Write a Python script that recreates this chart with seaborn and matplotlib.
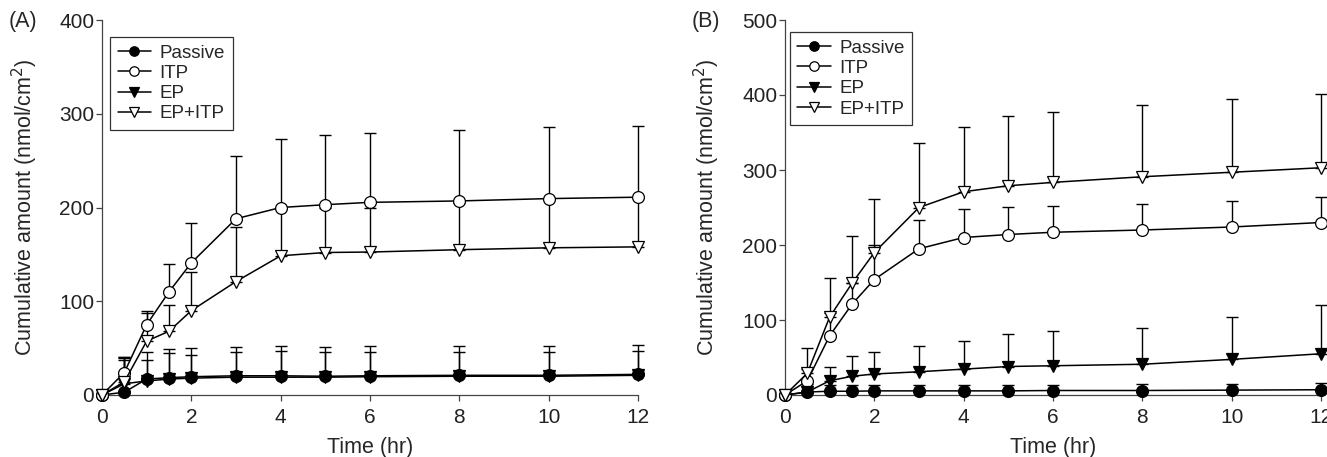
import numpy as np
import pandas as pd
import seaborn as sns
import matplotlib.pyplot as plt

# time points (hr)
time = [0, 0.5, 1, 1.5, 2, 3, 4, 5, 6, 8, 10, 12]

# panel A: means and upper error bar tops (nmol/cm2)
a_passive = [0, 3, 17, 18.5, 19.5, 20.5, 20.5, 20, 20.5, 21, 21, 22]
a_passive_err = [0, 41, 46, 49, 50, 51, 52, 51, 52, 52, 52, 53]
a_itp = [0, 24, 75, 110, 141, 188, 200, 203, 205.5, 207, 209.5, 211]
a_itp_err = [0, 41, 90, 140, 184, 255, 273, 277, 280, 283, 286, 287]
a_ep = [0, 12, 15, 17, 18, 19, 19, 19, 19.5, 20, 20, 21]
a_ep_err = [0, 37, 37, 45, 43, 46, 47, 46, 46, 46, 46, 47]
a_epitp = [0, 14, 57.5, 68, 90, 121, 148.5, 152, 152.5, 155, 157, 158]
a_epitp_err = [0, 39, 88, 96, 131.5, 179.5, 198, 200, 200, 205, 208, 210]

# panel B
b_passive = [0, 4, 5, 5, 5.5, 5.5, 5.5, 5.5, 6, 6, 6.5, 7]
b_passive_err = [0, 12, 13, 13, 14, 14, 14, 14, 14, 14.5, 15, 16]
b_itp = [0, 19, 79, 121, 154, 195, 210, 214, 217, 220, 224, 230]
b_itp_err = [0, 35, 110, 150, 200, 233, 248, 251, 252, 255, 259, 264]
b_ep = [0, 4, 19, 25, 28, 31, 34.5, 38, 39, 41, 47.5, 55]
b_ep_err = [0, 15, 38, 52, 58, 66, 72, 81, 85, 89, 103.5, 120]
b_epitp = [0, 29, 104, 149, 190, 250, 271, 279, 283.5, 291, 297, 303]
b_epitp_err = [0, 63, 156, 212, 261, 336, 358, 372, 377, 387, 395, 401]

labels = ["Passive", "ITP", "EP", "EP+ITP"]
markers = ["o", "o", "v", "v"]
faces = ["black", "white", "black", "white"]

sns.set_style("ticks")
plt.rcParams['font.family'] = ['Liberation Sans', 'DejaVu Sans']

fig = plt.figure(figsize=(13.27, 4.57), dpi=100)
ax_a = fig.add_axes([102 / 1327, 1 - 395 / 457, 536 / 1327, 375 / 457])
ax_b = fig.add_axes([785 / 1327, 1 - 395 / 457, 536 / 1327, 375 / 457])


def draw_panel(ax, means, errs, ymax, leg_anchor, ylab_x):
    for i, (m, e) in enumerate(zip(means, errs)):
        m = np.array(m, dtype=float)
        e = np.array(e, dtype=float)
        upper = np.clip(e - m, 0, None)
        eb = ax.errorbar(time, m, yerr=[np.zeros_like(m), upper], fmt='none',
                         ecolor='black', elinewidth=1, capsize=4.5, capthick=1, zorder=2)
        for art in eb.lines[1] + eb.lines[2]:
            art.set_clip_on(False)
        sns.lineplot(x=time, y=m, ax=ax, color='black', lw=1.1, marker=markers[i],
                     markersize=8.5, markerfacecolor=faces[i], markeredgecolor='black',
                     markeredgewidth=0.9, label=labels[i], clip_on=False, zorder=3 + i)
    ax.set_xlim(0, 12)
    ax.set_ylim(0, ymax)
    ax.set_xticks(range(0, 13, 2))
    ax.set_yticks(range(0, ymax + 1, 100))
    sns.despine(ax=ax)
    for s in ['left', 'bottom']:
        ax.spines[s].set_color('#444444')
        ax.spines[s].set_linewidth(0.9)
    ax.tick_params(axis='both', length=4, width=0.9, color='#444444',
                   labelsize=15, labelcolor='#222222', pad=1.5)
    ax.tick_params(axis='x', pad=5.5)
    ax.set_xlabel("Time (hr)", fontsize=15.5)
    ax.set_ylabel("Cumulative amount (nmol/cm$^2$)", fontsize=15.5)
    ax.xaxis.set_label_coords(0.5, -0.113)
    ax.yaxis.set_label_coords(ylab_x, 0.5)
    leg = ax.legend(loc='upper left', bbox_to_anchor=leg_anchor, borderaxespad=0,
                    fontsize=13.5, frameon=True, fancybox=False, handlelength=1.8,
                    handletextpad=0.45, labelspacing=0.17, borderpad=0.4,
                    markerscale=0.8)
    leg.get_frame().set_edgecolor('black')
    leg.get_frame().set_linewidth(0.9)


draw_panel(ax_a, [a_passive, a_itp, a_ep, a_epitp],
           [a_passive_err, a_itp_err, a_ep_err, a_epitp_err], 400, (0.015, 0.955), -0.116)
draw_panel(ax_b, [b_passive, b_itp, b_ep, b_epitp],
           [b_passive_err, b_itp_err, b_ep_err, b_epitp_err], 500, (0.009, 0.968), -0.1175)

fig.text(23 / 1327, 1 - 22 / 457, "(A)", fontsize=15.5, va='center', ha='center')
fig.text(706 / 1327, 1 - 22 / 457, "(B)", fontsize=15.5, va='center', ha='center')

fig.savefig("out.png", dpi=100, facecolor='white')
